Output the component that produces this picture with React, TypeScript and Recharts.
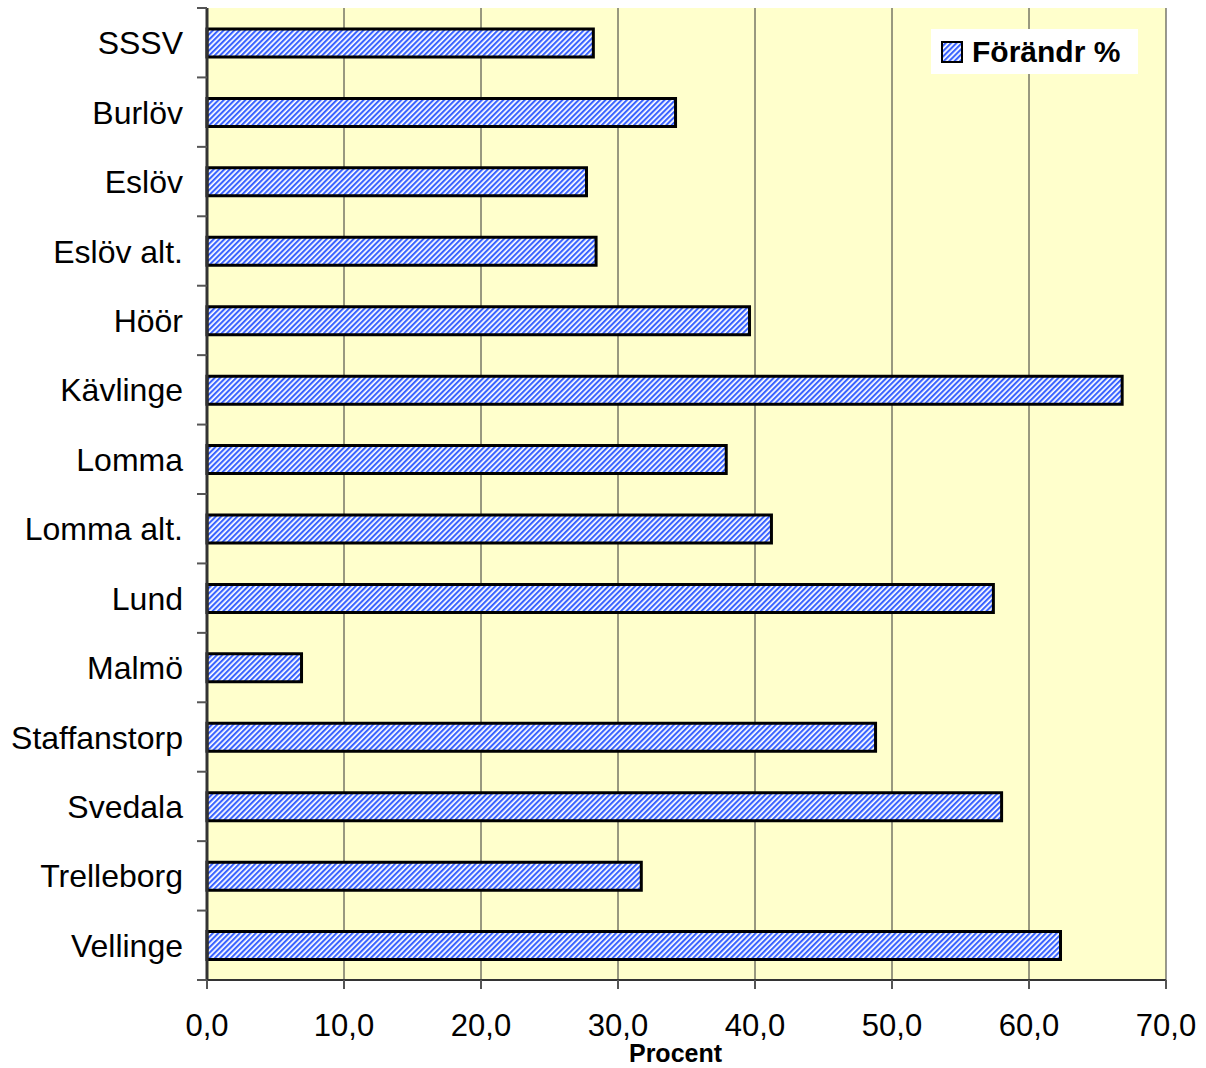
import { BarChart, Bar, XAxis, YAxis, CartesianGrid, Label } from 'recharts'

const categories = [
  'SSSV',
  'Burlöv',
  'Eslöv',
  'Eslöv alt.',
  'Höör',
  'Kävlinge',
  'Lomma',
  'Lomma alt.',
  'Lund',
  'Malmö',
  'Staffanstorp',
  'Svedala',
  'Trelleborg',
  'Vellinge',
]

const forandring = [28.2, 34.2, 27.7, 28.4, 39.6, 66.8, 37.9, 41.2, 57.4, 6.9, 48.8, 58.0, 31.7, 62.3]

const xTicks = [0, 10, 20, 30, 40, 50, 60, 70]

const data = categories.map((name, i) => ({ name, value: forandring[i] }))

const W = 1206
const H = 1068
const TOP = 8
const BOTTOM = 88
const LEFT = 207
const RIGHT = 40
const BAND = (H - TOP - BOTTOM) / categories.length
const FONT = '"Liberation Sans", Arial, sans-serif'

const fmt = (v: number) => v.toFixed(1).replace('.', ',')

function CategoryTick(props: any) {
  const { y, payload, index } = props
  const half = BAND / 2
  return (
    <g>
      <line x1={LEFT - 10} x2={LEFT} y1={y - half} y2={y - half} stroke="#555" strokeWidth={2} />
      {index === categories.length - 1 && (
        <line x1={LEFT - 10} x2={LEFT} y1={y + half} y2={y + half} stroke="#555" strokeWidth={2} />
      )}
      <text x={LEFT - 24} y={y} dy="0.36em" textAnchor="end" fontSize={32} fontFamily={FONT} fill="#000">
        {payload.value}
      </text>
    </g>
  )
}

function LegendBox() {
  return (
    <div
      style={{
        position: 'absolute',
        left: 931,
        top: 29,
        background: '#fff',
        width: 207,
        height: 45,
        display: 'flex',
        alignItems: 'center',
        fontFamily: FONT,
        fontWeight: 'bold',
        fontSize: 30,
        color: '#000',
        boxSizing: 'border-box',
        paddingLeft: 10,
      }}
    >
      <svg width={22} height={22} style={{ marginRight: 9 }}>
        <rect x={1} y={1} width={20} height={20} fill="url(#hatch)" stroke="#000" strokeWidth={2} />
      </svg>
      Förändr %
    </div>
  )
}

export default function App() {
  return (
    <div style={{ position: 'absolute', left: 0, top: 0, width: W, height: H, background: '#fff' }}>
      <BarChart
        width={W}
        height={H}
        data={data}
        layout="vertical"
        margin={{ top: TOP, right: RIGHT, left: 0, bottom: 0 }}
      >
        <defs>
          <pattern id="hatch" patternUnits="userSpaceOnUse" width={3.8} height={3.8} patternTransform="rotate(45)">
            <rect x={0} y={0} width={3.8} height={3.8} fill="#ffffff" />
            <rect x={0} y={0} width={2.1} height={3.8} fill="#3a63ff" />
          </pattern>
        </defs>
        <CartesianGrid
          horizontal={false}
          stroke="#333"
          strokeWidth={1}
          fill="#ffffcc"
          fillOpacity={1}
        />
        <XAxis
          type="number"
          domain={[0, 70]}
          ticks={xTicks}
          tickFormatter={fmt}
          height={BOTTOM}
          tickSize={9}
          tickMargin={25}
          axisLine={{ stroke: '#333', strokeWidth: 2 }}
          tickLine={{ stroke: '#555', strokeWidth: 2 }}
          tick={{ fontSize: 31, fill: '#000', fontFamily: FONT }}
          interval={0}
        >
          <Label
            value="Procent"
            position="insideBottom"
            offset={6}
            dx={-11}
            style={{ fontSize: 25, fontWeight: 'bold', fill: '#000', fontFamily: FONT }}
          />
        </XAxis>
        <XAxis
          xAxisId="top"
          orientation="top"
          type="number"
          domain={[0, 70]}
          height={0}
          tick={false}
          tickLine={false}
          axisLine={{ stroke: '#808080', strokeWidth: 3 }}
        />
        <YAxis
          type="category"
          dataKey="name"
          width={LEFT}
          interval={0}
          tick={<CategoryTick />}
          tickLine={false}
          axisLine={{ stroke: '#333', strokeWidth: 3 }}
        />
        <YAxis
          yAxisId="right"
          orientation="right"
          type="number"
          domain={[0, 1]}
          width={0}
          tick={false}
          tickLine={false}
          axisLine={{ stroke: '#808080', strokeWidth: 2 }}
        />
        <Bar
          dataKey="value"
          name="Förändr %"
          barSize={28}
          fill="url(#hatch)"
          stroke="#000"
          strokeWidth={3}
          isAnimationActive={false}
        />
      </BarChart>
      <LegendBox />
    </div>
  )
}
